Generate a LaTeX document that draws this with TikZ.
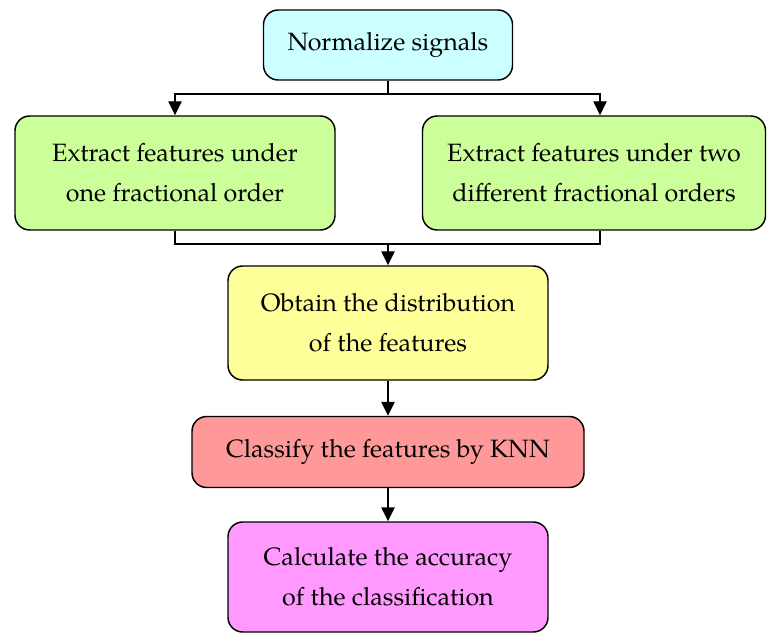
\documentclass[tikz,border=0pt]{standalone}
\usepackage{fontspec}
\setmainfont{texgyrepagella-regular.otf}
\usetikzlibrary{arrows.meta}
\definecolor{cCyan}{HTML}{CCFFFF}
\definecolor{cGreen}{HTML}{CCFF99}
\definecolor{cYellow}{HTML}{FFFF99}
\definecolor{cRed}{HTML}{FF9999}
\definecolor{cPink}{HTML}{FF99FF}
\begin{document}
\begin{tikzpicture}[x=0.75pt,y=-0.75pt,
  box/.style={draw=black, line width=1.1pt, rounded corners=11pt, align=center,
    inner sep=0pt, font=\fontsize{18.8}{30}\selectfont},
  conn/.style={draw=black, line width=1.1pt},
  arr/.style={conn, -{Triangle[length=10.5pt,width=10pt]}}]
\useasboundingbox (0,0) rectangle (767,634);
\node[box, fill=cCyan, minimum width=249*0.75pt, minimum height=70*0.75pt] (n1) at (388,45) {Normalize signals};
\node[box, fill=cGreen, minimum width=320*0.75pt, minimum height=114*0.75pt] (n2) at (175,173) {Extract features under\\one fractional order};
\node[box, fill=cGreen, minimum width=343*0.75pt, minimum height=114*0.75pt] (n3) at (594,173) {Extract features under two\\different fractional orders};
\node[box, fill=cYellow, minimum width=320*0.75pt, minimum height=114*0.75pt] (n4) at (388,323) {Obtain the distribution\\of the features};
\node[box, fill=cRed, minimum width=392*0.75pt, minimum height=71*0.75pt] (n5) at (388,452) {Classify the features by KNN};
\node[box, fill=cPink, minimum width=320*0.75pt, minimum height=110*0.75pt] (n6) at (388,577) {Calculate the accuracy\\of the classification};
\coordinate (j1) at (388,94);
\coordinate (jl) at (175,94);
\coordinate (jr) at (600,94);
\coordinate (b2) at (175,244);
\coordinate (b3) at (600,244);
\coordinate (j2) at (388,244);
\draw[conn] (n1.south) -- (j1);
\draw[arr] (j1) -- (jl) -- (jl |- n2.north);
\draw[arr] (j1) -- (jr) -- (jr |- n3.north);
\draw[conn] (n2.south) -- (b2) -- (b3) -- (b3 |- n3.south);
\draw[arr] (j2) -- (n4.north);
\draw[arr] (n4.south) -- (n5.north);
\draw[arr] (n5.south) -- (n6.north);
\end{tikzpicture}
\end{document}
